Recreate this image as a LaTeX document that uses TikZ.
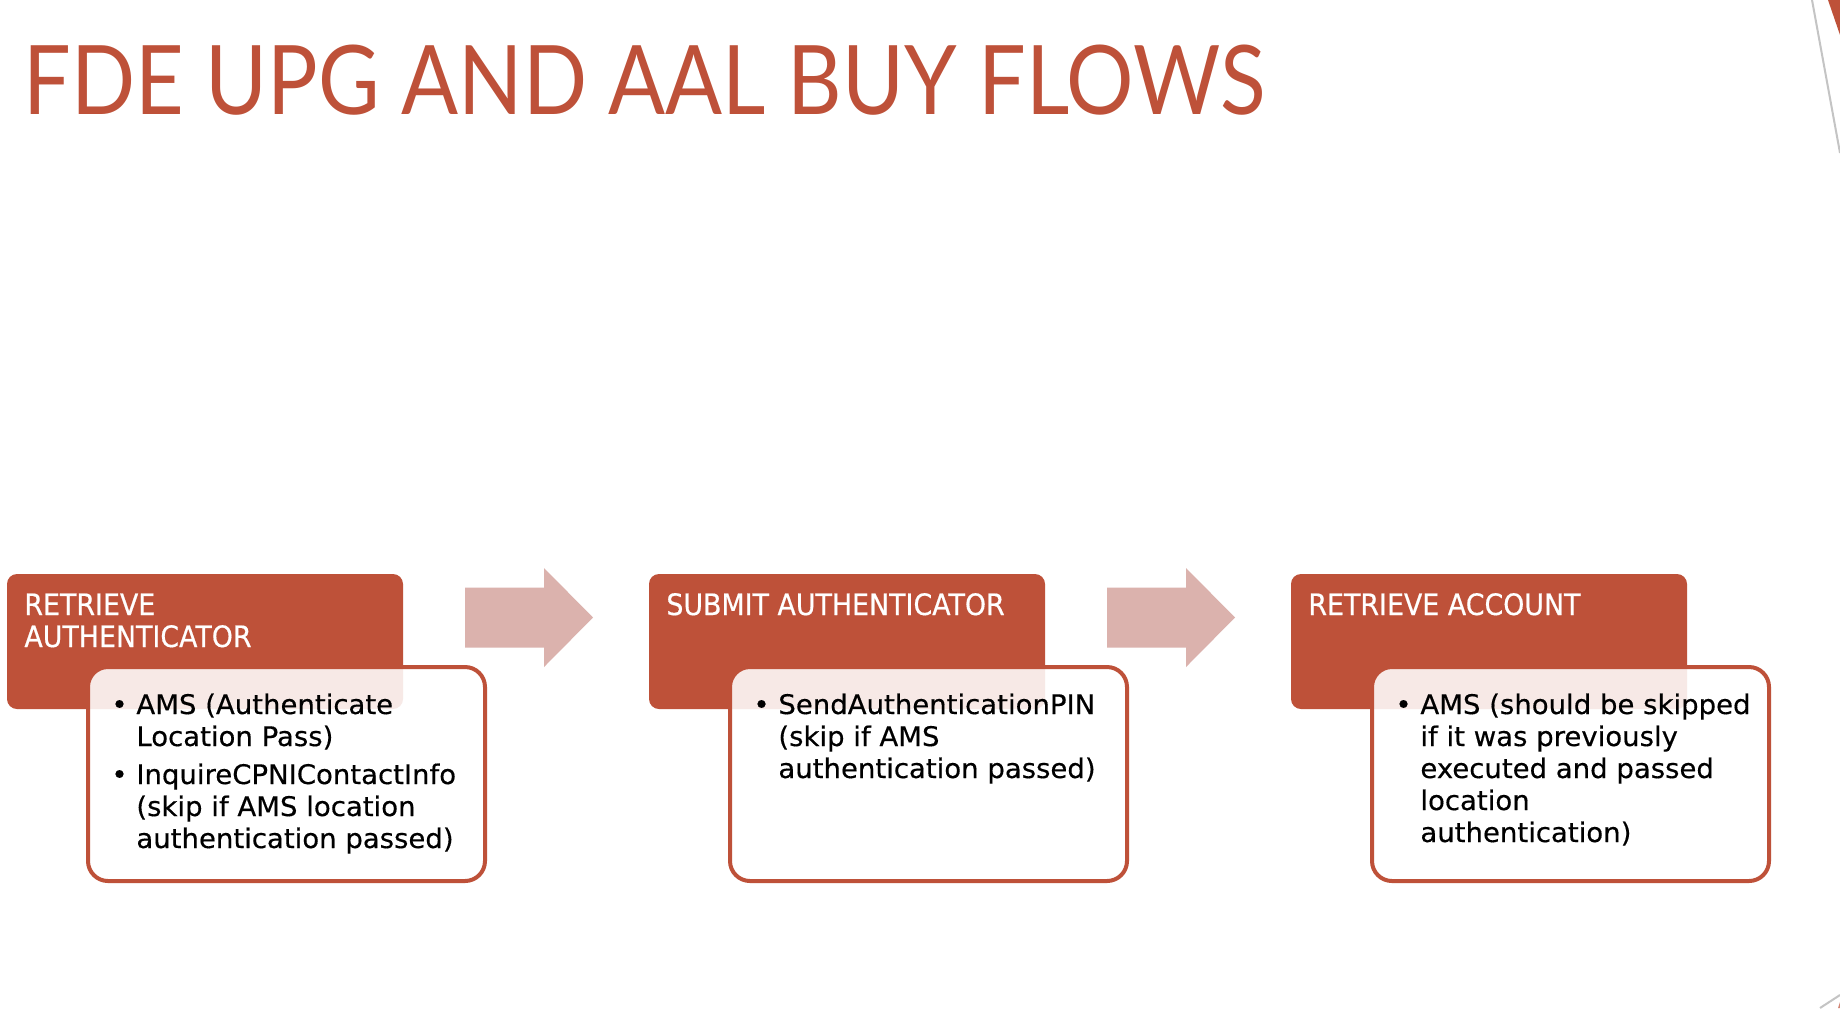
\documentclass[tikz,border=0pt]{standalone}
\usepackage{fontspec}
\usepackage{graphicx}
\usetikzlibrary{calc}
\newfontfamily\titlefont{Lato}
\newfontfamily\bodyfont[FakeStretch=1.02,FakeBold=0.4]{DejaVu Sans}
\newfontfamily\headfont[FakeStretch=0.91,FakeBold=0.5]{DejaVu Sans}
\definecolor{rust}{HTML}{BE5139}
\definecolor{arrowpink}{HTML}{DBB2AD}
\definecolor{edgegray}{HTML}{C4C4C4}
% bullet set a little to the left of its column
\newcommand{\itemdot}{\makebox[8.5pt][l]{\hspace{-4pt}•}}
\begin{document}
\begin{tikzpicture}[x=0.5pt,y=-0.5pt,
  header/.style={fill=rust, rounded corners=5pt, minimum width=198pt,
    minimum height=67.5pt, inner sep=0pt, outer sep=0pt},
  detail/.style={draw=rust, line width=2pt, fill=white, fill opacity=0.88,
    rounded corners=10pt, minimum width=198.5pt, minimum height=107pt,
    inner sep=0pt, outer sep=0pt},
  headtext/.style={anchor=base west, inner sep=0pt, text=white,
    font=\headfont\fontsize{14.75}{16}\selectfont},
  bullets/.style={anchor=base west, inner sep=0pt, text=black,
    font=\bodyfont\fontsize{13.5}{16}\selectfont},
  flowarrow/.pic={\fill[arrowpink] (0,-30) -- (79,-30) -- (79,-49.5)
    -- (128,0) -- (79,49.5) -- (79,30) -- (0,30) -- cycle;}]

% canvas
\fill[white] (0,0) rectangle (1840,1008);
\useasboundingbox (0,0) rectangle (1840,1008);

% corner ornaments
\draw[edgegray, line width=1pt] (1812,0) -- (1840,153);
\fill[rust] (1828,0) -- (1840,0) -- (1840,35) -- cycle;
\draw[edgegray, line width=1pt] (1820,1008) -- (1840,995);
\fill[rust!70] (1838,1008) -- (1840,1008) -- (1840,1002) -- cycle;

% title
\node[anchor=base west, inner sep=0pt, text=rust] (title) at (23,114)
  {\resizebox{621pt}{\height}{\titlefont\fontsize{48}{48}\selectfont FDE UPG AND AAL BUY FLOWS}};

% step 1
\node[header] (h1) at (205,641.5) {};
\node[headtext] (t1) at ($(h1.north west)+(17,41)$)
  {\begin{tabular}[t]{@{}l@{}}RETRIEVE\\AUTHENTICATOR\end{tabular}};
\node[detail] (d1) at (286.5,774) {};
\node[bullets] (b1) at ($(d1.north west)+(31,47)$)
  {\begin{tabular}[t]{@{}l@{}l@{}}
   \itemdot & AMS (Authenticate\\
   & Location Pass)\\[3pt]
   \itemdot & InquireCPNIContactInfo\\
   & (skip if AMS location\\
   & authentication passed)
   \end{tabular}};

% step 2
\node[header] (h2) at (847,641.5) {};
\node[headtext] (t2) at ($(h2.north west)+(17,41)$) {SUBMIT AUTHENTICATOR};
\node[detail] (d2) at (928.5,774) {};
\node[bullets] (b2) at ($(d2.north west)+(31,47)$)
  {\begin{tabular}[t]{@{}l@{}l@{}}
   \itemdot & SendAuthenticationPIN\\
   & (skip if AMS\\
   & authentication passed)
   \end{tabular}};

% step 3
\node[header] (h3) at (1489,641.5) {};
\node[headtext] (t3) at ($(h3.north west)+(17,41)$) {RETRIEVE ACCOUNT};
\node[detail] (d3) at (1570.5,774) {};
\node[bullets] (b3) at ($(d3.north west)+(31,47)$)
  {\begin{tabular}[t]{@{}l@{}l@{}}
   \itemdot & AMS (should be skipped\\
   & if it was previously\\
   & executed and passed\\
   & location\\
   & authentication)
   \end{tabular}};

% flow arrows between the steps
\pic at ($(h1.east)+(62,-24)$) {flowarrow};
\pic at ($(h2.east)+(62,-24)$) {flowarrow};

\end{tikzpicture}
\end{document}
